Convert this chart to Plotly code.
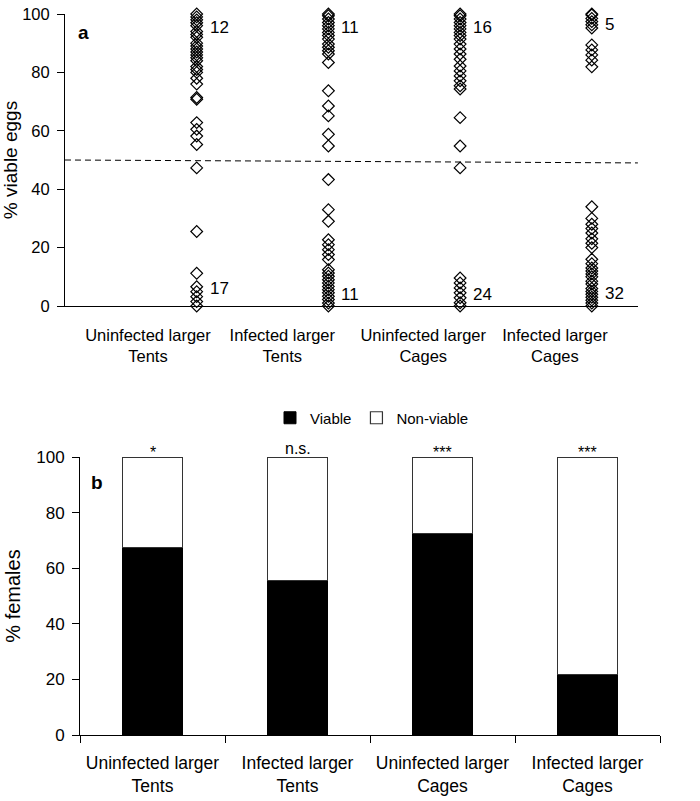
import plotly.graph_objects as go

# ---------------- data ----------------
groups = ["Uninfected larger<br>Tents", "Infected larger<br>Tents",
          "Uninfected larger<br>Cages", "Infected larger<br>Cages"]

uninf_tents = [100, 99, 98, 97, 96, 94, 93, 92, 90, 89, 88, 87, 86, 85, 84, 82, 81, 80, 78, 76,
               71.4, 70.8, 62.8, 60.5, 58.2, 55.3, 47.3, 25.5, 11.2, 6.6, 4.9, 3.2, 1.5, 0]
inf_tents = [100, 99.4, 98.3, 97.1, 96, 94.9, 93.7, 92.6, 91.4, 89.7, 88.6, 87.4, 86.3, 83.4,
             73.7, 68.5, 65.1, 58.8, 54.8, 43.3, 33.0, 29.0, 22.7, 21.0, 19.3, 17.6, 15.9,
             12.4, 11.3, 10.2, 9.0, 7.9, 6.7, 5.6, 4.5, 3.3, 2.2, 1.0, 0]
uninf_cages = [100, 99.4, 98.3, 97.1, 96, 94.9, 93.7, 92.6, 91.4, 89.7, 88, 86.3, 84.5, 82.2,
               80.5, 78.8, 77.1, 75.4, 74.3, 64.5, 54.8, 47.3, 9.6, 7.9, 6.2, 4.5, 2.8, 1.1, 0]
inf_cages = [100, 99.7, 98.5, 97.4, 96.3, 95.2, 89.4, 87.7, 86, 84.2, 81.9,
             34, 30, 28, 26.5, 25, 23, 21.5, 20, 16, 14.5, 13, 12, 11, 10, 8.5, 7.5, 6, 5,
             4, 3, 2, 1, 0]
scatter_series = [uninf_tents, inf_tents, uninf_cages, inf_cages]
group_x = [1, 2, 3, 4]

count_at_100 = [12, 11, 16, 5]
count_at_0 = [17, 11, 24, 32]
threshold = [50, 49]          # dashed line value at left and right end

viable = [67.5, 55.6, 72.6, 21.7]
nonviable = [100 - v for v in viable]
signif = ["*", "n.s.", "***", "***"]

# ---------------- styling / layout constants ----------------
FONT = "Liberation Sans, Arial, sans-serif"
W, H = 700, 801
XA_MAX = 4.35
label_pos_a = [0.63, 1.65, 2.72, 3.72]
top_lab_y = [95.5, 95.5, 95.5, 96.5]
bot_lab_y = [6.0, 3.8, 3.8, 4.4]


def px_x(p):
    return p / W


def px_y(p):
    return 1 - p / H


fig = go.Figure()

for i, vals in enumerate(scatter_series):
    fig.add_trace(go.Scatter(
        x=[group_x[i]] * len(vals), y=vals, mode="markers",
        marker=dict(symbol="diamond-open", size=9, color="black",
                    line=dict(width=1.2, color="black")),
        cliponaxis=False, showlegend=False, xaxis="x", yaxis="y"))

fig.add_trace(go.Scatter(
    x=[0, XA_MAX], y=threshold, mode="lines",
    line=dict(color="black", width=1, dash="6px,4px"),
    showlegend=False, xaxis="x", yaxis="y", hoverinfo="skip"))

fig.add_trace(go.Bar(
    x=groups, y=viable, name="Viable", marker=dict(color="black",
    line=dict(color="black", width=1)), xaxis="x2", yaxis="y2"))
fig.add_trace(go.Bar(
    x=groups, y=nonviable, name="Non-viable", marker=dict(color="white",
    line=dict(color="#333333", width=1.2)), xaxis="x2", yaxis="y2"))

ann = []
for i in range(4):
    ann.append(dict(x=group_x[i], y=top_lab_y[i], xref="x", yref="y",
                    text=str(count_at_100[i]), showarrow=False,
                    xanchor="left", xshift=11, font=dict(size=17)))
    ann.append(dict(x=group_x[i], y=bot_lab_y[i], xref="x", yref="y",
                    text=str(count_at_0[i]), showarrow=False,
                    xanchor="left", xshift=11, font=dict(size=17)))
    ann.append(dict(x=groups[i], y=100, xref="x2", yref="y2",
                    text=signif[i], showarrow=False, yanchor="bottom",
                    yshift=-6 if "*" in signif[i] else -2,
                    font=dict(size=16)))

ann.append(dict(x=px_x(83), y=px_y(33), xref="paper", yref="paper", text="<b>a</b>",
                xanchor="center", yanchor="middle",
                showarrow=False, font=dict(size=19)))
ann.append(dict(x=px_x(97), y=px_y(482), xref="paper", yref="paper", text="<b>b</b>",
                xanchor="center", yanchor="middle",
                showarrow=False, font=dict(size=19)))

axis_common = dict(showline=True, linecolor="black", linewidth=1, showgrid=False,
                   zeroline=False, tickcolor="black", ticklen=7, tickwidth=1,
                   automargin=False)

fig.update_layout(
    width=W, height=H,
    margin=dict(l=0, r=0, t=0, b=0),
    paper_bgcolor="white", plot_bgcolor="white",
    font=dict(family=FONT, color="black"),
    barmode="stack", bargap=0.59,
    annotations=ann,
    legend=dict(orientation="h", x=px_x(372), y=px_y(418), xanchor="center",
                yanchor="middle", font=dict(size=15), itemwidth=30,
                bgcolor="rgba(0,0,0,0)", traceorder="normal"),
    xaxis=dict(axis_common, domain=[px_x(65), px_x(65 + 131.7 * XA_MAX)],
               range=[0, XA_MAX], tickvals=label_pos_a, ticktext=groups,
               tickfont=dict(size=16.5, color="black"),
               ticks="", ticklabelstandoff=14, anchor="y"),
    yaxis=dict(axis_common, domain=[px_y(306), px_y(14)], range=[0, 100],
               tickvals=[0, 20, 40, 60, 80, 100], ticks="outside",
               tickfont=dict(size=16.5, color="black"),
               ticklabelstandoff=4, anchor="x",
               title=dict(text="% viable eggs", font=dict(size=19), standoff=8)),
    xaxis2=dict(axis_common, domain=[px_x(80), px_x(660)], type="category",
                tickfont=dict(size=17.5, color="black"),
                ticks="outside", tickson="boundaries", ticklabelstandoff=12,
                anchor="y2"),
    yaxis2=dict(axis_common, domain=[px_y(735), px_y(457)], range=[0, 100],
                tickvals=[0, 20, 40, 60, 80, 100], ticks="outside",
                tickfont=dict(size=17, color="black"),
                ticklabelstandoff=4, anchor="x2",
                title=dict(text="% females", font=dict(size=20), standoff=10)),
)

fig.write_html("out.html",
               config={"displayModeBar": False},
               post_script="document.body.style.margin='0';"
                           "document.body.style.overflow='hidden';")
